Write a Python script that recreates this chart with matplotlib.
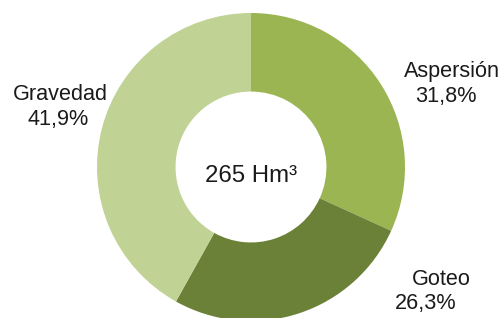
import matplotlib
matplotlib.use("Agg")
import matplotlib.pyplot as plt

plt.rcParams['font.family'] = ['Liberation Sans', 'DejaVu Sans']

labels = ['Aspersión', 'Goteo', 'Gravedad']
shares = [31.8, 26.3, 41.9]
colors = ['#9bb552', '#6b8138', '#c0d294']
total_text = '265 Hm³'

W, H = 502, 318
fig = plt.figure(figsize=(W / 100, H / 100), dpi=100)
ax = fig.add_axes([0, 0, 1, 1])

cx, cy, r = 251, 167, 154
# y axis is inverted below, so counterclock=True runs clockwise on screen
ax.pie(shares, colors=colors, startangle=-90, counterclock=True,
       center=(cx, cy), radius=r, frame=True,
       wedgeprops=dict(width=r * 0.51, linewidth=0))
ax.set_xlim(0, W)
ax.set_ylim(H, 0)  # pixel coords, y down
ax.set_aspect('equal')
ax.axis('off')

txt = dict(fontsize=15.6, color='#1a1a1a', ha='center', va='baseline')
# label positions (pixel coords), one line each
pos = {
    'Aspersión': ((452, 77), (446, 102)),
    'Goteo': ((441, 285), (426, 309)),
    'Gravedad': ((60, 100), (58, 125)),
}
for lab, val in zip(labels, shares):
    (x1, y1), (x2, y2) = pos[lab]
    ax.text(x1, y1, lab, **txt)
    ax.text(x2, y2, f'{val:.1f}%'.replace('.', ','), **txt)

ax.text(cx, 182, total_text, fontsize=17.3, color='#1a1a1a', ha='center', va='baseline')

fig.savefig('out.png', dpi=100)
